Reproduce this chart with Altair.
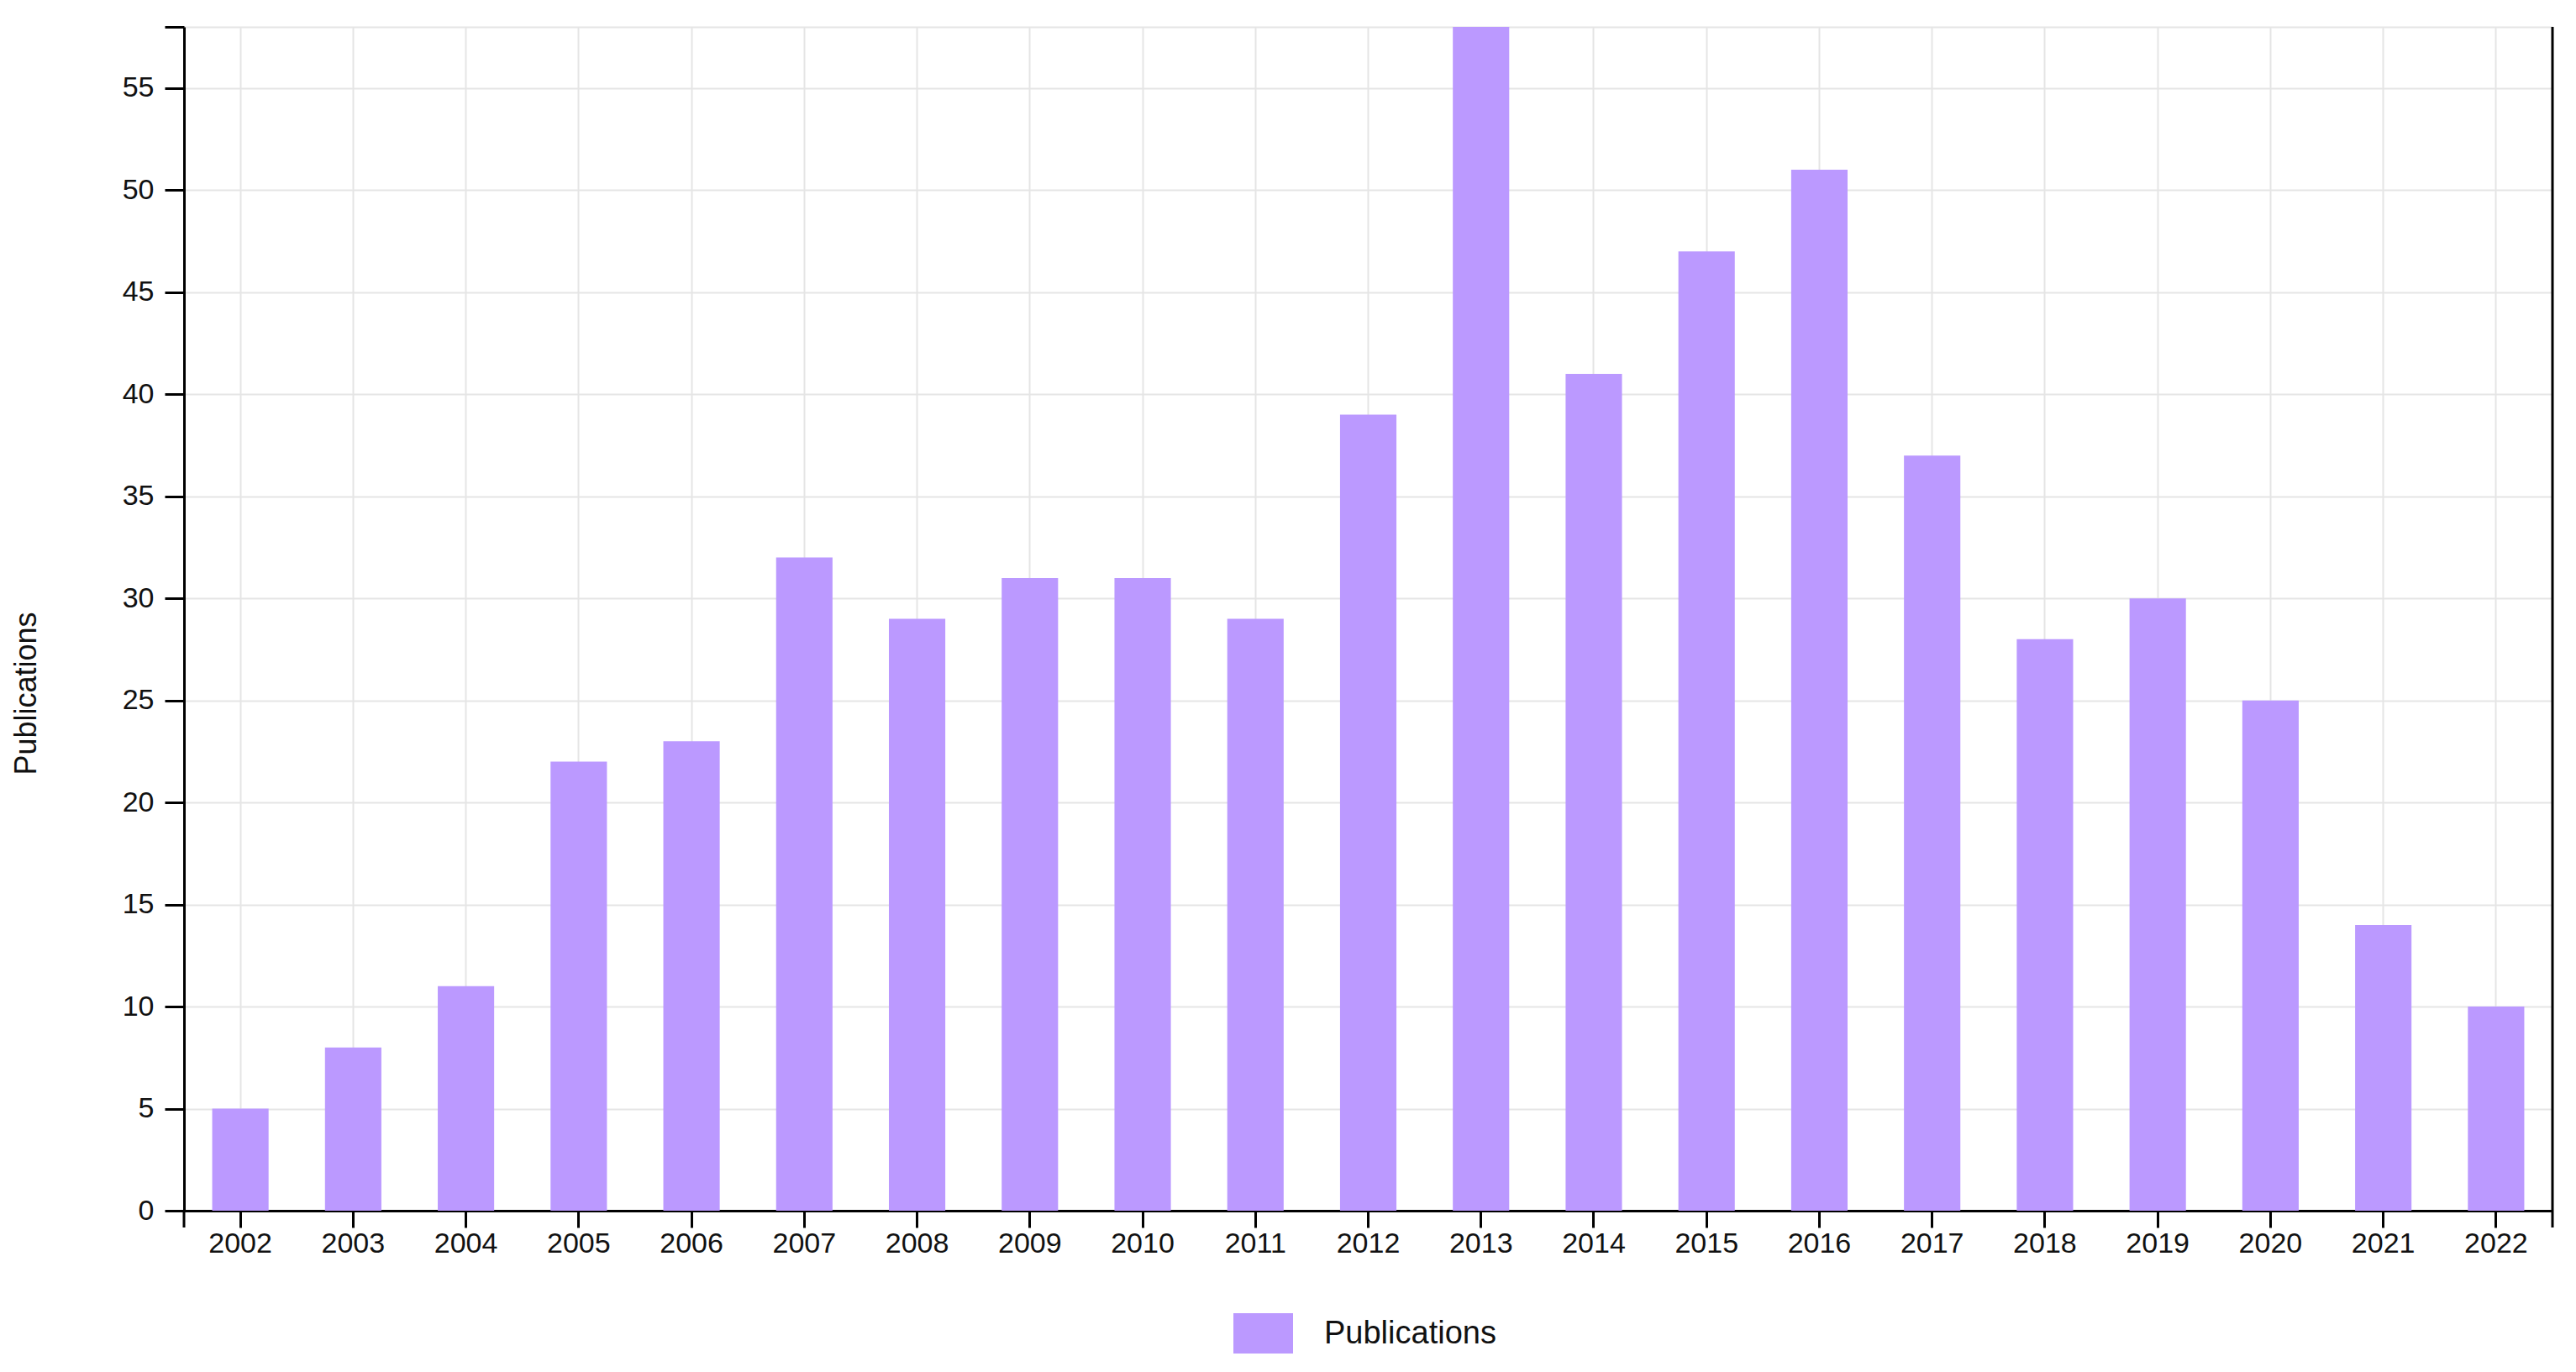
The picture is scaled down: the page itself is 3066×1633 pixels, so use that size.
import altair as alt
import pandas as pd

years = [str(y) for y in range(2002, 2023)]
publications = [5, 8, 11, 22, 23, 32, 29, 31, 31, 29, 39, 58, 41, 47, 51, 37, 28, 30, 25, 14, 10]
series_name = "Publications"
y_ticks = [0, 5, 10, 15, 20, 25, 30, 35, 40, 45, 50, 55, 58]

df = pd.DataFrame({"Year": years, "Count": publications, "Series": [series_name] * len(years)})

W, H = 2819, 1409
FONT = "Liberation Sans"

bars = alt.Chart(df).mark_bar().encode(
    x=alt.X("Year:N", sort=years, title=None,
            scale=alt.Scale(paddingInner=0.5, paddingOuter=0.25),
            axis=alt.Axis(bandPosition=0.5, grid=True, gridColor="#e5e5e5", gridWidth=2,
                          domainColor="black", domainWidth=3, tickColor="black", tickWidth=3,
                          tickSize=20, labelFontSize=34, labelFont=FONT, labelColor="#111",
                          labelAngle=0, labelPadding=2)),
    y=alt.Y("Count:Q", title="Publications",
            scale=alt.Scale(domain=[0, 58], nice=False),
            axis=alt.Axis(values=y_ticks, grid=True, gridColor="#e5e5e5", gridWidth=2,
                          labelExpr="datum.value == 58 ? '' : datum.label",
                          domainColor="black", domainWidth=3, tickColor="black", tickWidth=3,
                          tickSize=23, labelFontSize=34, labelFont=FONT, labelColor="#111",
                          labelPadding=13, titleFont=FONT, titleFontSize=36,
                          titleFontWeight="normal", titleColor="#111",
                          titleAngle=270, titleX=-188, titleY=793,
                          titleAlign="center", titleBaseline="middle")),
    color=alt.Color("Series:N", title=None,
                    scale=alt.Scale(domain=[series_name], range=["#bb99ff"]),
                    legend=alt.Legend(orient="none", legendX=1249, legendY=1520,
                                      symbolType="M-1,-0.69L1,-0.69L1,0.69L-1,0.69Z",
                                      symbolSize=5041, symbolStrokeWidth=0,
                                      symbolOpacity=1, labelLimit=0,
                                      labelFont=FONT, labelFontSize=38, labelColor="#111",
                                      labelOffset=37)),
)

edge_df = pd.DataFrame({"edge": [0]})
edge_left = alt.Chart(edge_df).mark_rule(color="black", strokeWidth=3).encode(
    x=alt.value(0), y=alt.value(H), y2=alt.value(H + 20))
edge_right = alt.Chart(edge_df).mark_rule(color="black", strokeWidth=3).encode(
    x=alt.value(W), y=alt.value(0), y2=alt.value(H + 20))

chart = alt.layer(bars, edge_left, edge_right).properties(
    width=W, height=H,
    padding={"left": 211, "top": 24, "right": 10, "bottom": 170},
    autosize=alt.AutoSizeParams(type="none"),
).configure_view(stroke="black", strokeWidth=3).configure(background="white")

chart.save("out.html", embed_options={"renderer": "svg", "actions": False})
